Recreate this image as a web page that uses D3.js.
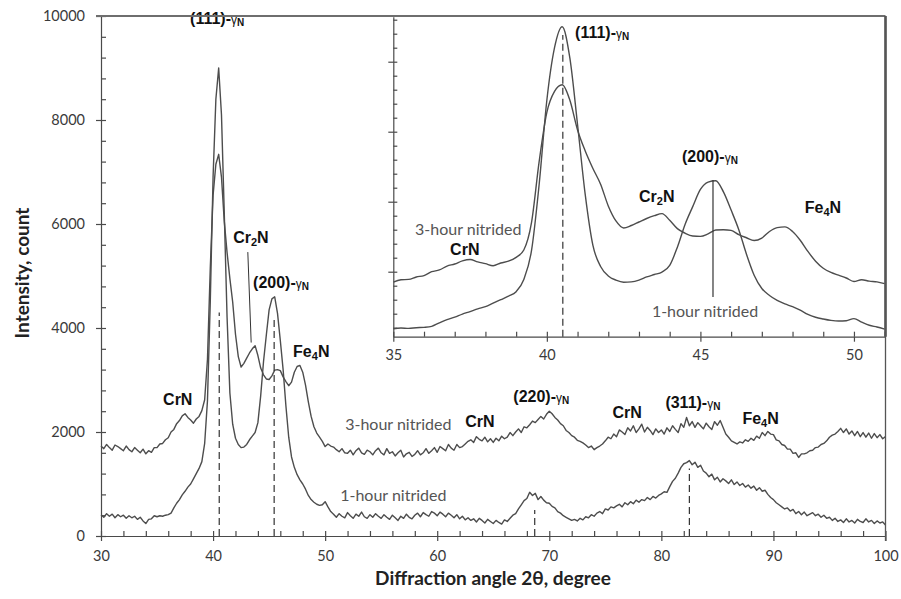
<!DOCTYPE html>
<html><head><meta charset="utf-8">
<script src="https://cdn.jsdelivr.net/npm/d3@7"></script>
<style>
body{margin:0;background:#fff}
svg{display:block;background:#fff}
.tick text{font-family:Lato,"Open Sans",sans-serif;font-size:14.5px;fill:#3a3a3a}
.axis path,.axis line{stroke:#4a4a4a;stroke-width:1.2}
.peak{font-family:"Liberation Sans",Arial,sans-serif;font-weight:bold;font-size:16px;fill:#111}
.note{font-family:Lato,"Open Sans",sans-serif;font-size:16px;fill:#555}
.title{font-family:Lato,"Open Sans",sans-serif;font-weight:bold;font-size:19px;fill:#222}
.trace{fill:none;stroke:#4d4d4d;stroke-width:1.4;stroke-linejoin:round}
</style></head>
<body><svg id="chart" width="901" height="599"></svg>
<script>
// XRD scan: 2θ from 30° to 100° in 0.25° steps
const angleStart = 30, angleStep = 0.25;

// 3-hour nitrided sample, counts
const threeHour = [
 1730,1680,1760,1700,1650,1750,1720,1680,1640,1730,1660,1620,1700,1650,1600,1670,1580,1640,1610,1700,
 1700,1770,1780,1850,1890,2000,2050,2160,2220,2310,2350,2280,2230,2170,2250,2300,2410,2620,3400,5150,
 6550,7150,7340,6900,6050,5450,4950,4500,3880,3450,3250,3320,3420,3520,3600,3660,3470,3230,3100,3020,
 3010,3080,3190,3200,3180,3060,2970,2890,2960,3150,3260,3280,3150,2900,2580,2300,2100,1980,1900,1820,
 1720,1770,1730,1710,1660,1620,1680,1600,1590,1650,1560,1640,1690,1600,1570,1650,1620,1560,1640,1690,
 1600,1560,1680,1590,1620,1540,1600,1650,1520,1580,1610,1530,1570,1640,1560,1600,1680,1590,1640,1700,
 1610,1720,1680,1640,1760,1690,1650,1760,1700,1720,1770,1820,1850,1800,1910,1860,1830,1900,1810,1870,
 1800,1880,1830,1920,1870,1900,1990,1930,2000,2060,1990,2100,2080,2140,2210,2180,2240,2300,2250,2340,
 2400,2350,2280,2230,2160,2120,2030,1990,1930,1900,1840,1820,1790,1750,1700,1730,1660,1700,1730,1770,
 1830,1900,1870,1960,1910,2040,2000,1950,2080,2020,2120,1990,2060,2150,2000,2090,2030,1950,2060,1990,
 2040,1960,2080,2010,2120,2050,1990,2160,2090,2280,2120,2200,2090,2180,2120,2060,2170,2100,2050,2200,
 2130,2220,2090,1960,1900,1830,1800,1770,1810,1790,1850,1820,1880,1840,1920,1880,1990,1930,2010,1960,
 1950,1850,1830,1760,1740,1670,1670,1590,1600,1510,1580,1580,1600,1640,1650,1700,1710,1760,1780,1830,
 1900,1940,1960,2010,2070,1990,2060,1960,2020,1930,2010,1910,1990,1900,1980,1880,1970,1890,1950,1870,
 1910
];

// 1-hour nitrided sample, counts
const oneHour = [
 410,360,430,380,420,350,410,370,400,340,390,350,380,320,360,290,240,320,330,390,
 370,390,380,400,410,440,540,630,700,790,860,940,1000,1100,1200,1300,1430,1780,2600,4500,
 6900,8400,9000,8100,6200,4200,2750,2150,1880,1760,1700,1710,1760,1850,1920,1990,2180,2700,3350,3860,
 4350,4560,4600,4280,3760,3200,2500,1900,1520,1320,1180,1080,1000,900,780,700,650,610,590,600,
 660,560,470,420,360,430,380,350,450,390,340,420,380,460,370,340,410,360,430,380,
 340,410,360,320,400,350,300,380,340,420,360,330,400,440,370,450,410,380,470,440,
 390,460,420,370,440,400,350,410,330,380,310,350,300,330,270,340,300,250,320,280,
 240,300,260,230,310,280,340,400,430,520,600,680,720,840,780,820,700,760,690,640,
 630,570,540,470,440,390,360,330,300,320,290,340,310,370,350,410,380,440,470,430,
 520,500,560,540,580,610,560,640,600,660,620,690,650,700,680,740,700,760,730,780,
 810,850,840,950,1050,1110,1210,1320,1390,1410,1450,1370,1420,1320,1360,1250,1210,1140,1190,1080,
 1130,1040,1100,1060,1010,1080,990,1040,970,1010,940,980,920,960,880,930,860,880,800,740,
 700,640,600,560,520,540,480,510,430,470,410,460,390,420,450,390,420,360,400,340,
 360,300,340,280,310,260,330,270,300,250,320,280,260,330,270,300,240,290,250,270,
 210
];

const xTicks = [30,40,50,60,70,80,90,100];
const yTicks = [0,2000,4000,6000,8000,10000];
const insetXTicks = [35,40,45,50];

// peak annotations: [2θ, counts] anchor of each label
const mainLabels = [
  {t:"(111)-", gamma:true, d:37.95, v:9846},
  {t:"Cr", sub:"2", tail:"N", d:41.79, v:5635},
  {t:"(200)-", gamma:true, d:43.57, v:4769},
  {t:"Fe", sub:"4", tail:"N", d:47.14, v:3442},
  {t:"CrN", d:35.54, v:2519},
  {t:"3-hour nitrided", note:true, d:51.79, v:2038},
  {t:"CrN", d:62.5, v:2096},
  {t:"(220)-", gamma:true, d:66.79, v:2577},
  {t:"CrN", d:75.63, v:2269},
  {t:"(311)-", gamma:true, d:80.36, v:2462},
  {t:"Fe", sub:"4", tail:"N", d:87.23, v:2154},
  {t:"1-hour nitrided", note:true, d:51.34, v:673}
];
const insetLabels = [
  {t:"(111)-", gamma:true, d:40.92, v:8677},
  {t:"(200)-", gamma:true, d:44.4, v:5134},
  {t:"Cr", sub:"2", tail:"N", d:43.0, v:3991},
  {t:"Fe", sub:"4", tail:"N", d:48.4, v:3677},
  {t:"3-hour nitrided", note:true, d:35.71, v:3048},
  {t:"CrN", d:36.85, v:2477},
  {t:"1-hour nitrided", note:true, d:43.42, v:706}
];

// peak position markers: [2θ, from counts, to counts]
const mainMarkers = [
  {d:40.55, v0:0, v1:4300, dash:true},
  {d:45.45, v0:0, v1:4200, dash:true},
  {d:68.7, v0:0, v1:500, dash:true},
  {d:82.5, v0:0, v1:1300, dash:true}
];
const insetMarkers = [
  {d:40.52, v0:143, v1:8760, dash:true},
  {d:45.41, v0:1280, v1:4620, dash:false}
];
// leader from the Cr2N label to its shoulder
const cr2nLeader = {d0:43.1, v0:5460, d1:43.4, v1:3720};

const scan = threeHour.map((v,i)=>({a: angleStart + i*angleStep, three: v, one: oneHour[i]}));

const svg = d3.select("#chart");
const L = 101, R = 885.5, T = 16, B = 536;
const x = d3.scaleLinear().domain([30,100]).range([L,R]);
const y = d3.scaleLinear().domain([0,10000]).range([B,T]);

// ---- main axes
const yMinor = d3.range(0,10001,400);
const xMinor = d3.range(30,101,2);
svg.append("g").attr("class","axis").attr("transform",`translate(${L},0)`)
  .call(d3.axisLeft(y).tickValues(yTicks).tickFormat(d3.format("d")).tickSize(5).tickSizeOuter(0).tickPadding(11));
svg.append("g").attr("class","axis").attr("transform",`translate(${L},0)`)
  .call(d3.axisRight(y).tickValues(yMinor).tickSize(5).tickSizeOuter(0).tickFormat(""))
  .select(".domain").remove();
svg.append("g").attr("class","axis").attr("transform",`translate(0,${B})`)
  .call(d3.axisBottom(x).tickValues(xTicks).tickSize(5).tickSizeOuter(0).tickPadding(10));
svg.append("g").attr("class","axis").attr("transform",`translate(0,${B})`)
  .call(d3.axisTop(x).tickValues(xMinor).tickSize(5).tickSizeOuter(0).tickFormat(""))
  .select(".domain").remove();

// ---- main traces
const lineThree = d3.line().x(d=>x(d.a)).y(d=>y(d.three));
const lineOne = d3.line().x(d=>x(d.a)).y(d=>y(d.one));
svg.append("path").datum(scan).attr("class","trace").attr("d",lineThree);
svg.append("path").datum(scan).attr("class","trace").attr("d",lineOne);

function drawMarkers(g, xs, ys, list){
  list.forEach(m=>{
    g.append("line").attr("x1",xs(m.d)).attr("x2",xs(m.d))
      .attr("y1",ys(m.v0)).attr("y2",ys(m.v1))
      .attr("stroke","#333").attr("stroke-width",1.2)
      .attr("stroke-dasharray", m.dash ? "7,4" : null);
  });
}
function drawLabels(g, xs, ys, list){
  list.forEach(l=>{
    const t = g.append("text").attr("x",xs(l.d)).attr("y",ys(l.v));
    if (l.note){ t.attr("class","note").text(l.t); return; }
    t.attr("class","peak");
    t.append("tspan").text(l.t);
    if (l.gamma){
      t.append("tspan").attr("font-size",12).attr("font-weight","normal").text("γ");
      t.append("tspan").attr("font-size",10).attr("dy",2).text("N");
    }
    if (l.sub){
      t.append("tspan").attr("font-size",11).attr("dy",3).text(l.sub);
      t.append("tspan").attr("dy",-3).text(l.tail);
    }
  });
}
drawMarkers(svg, x, y, mainMarkers);
svg.append("line").attr("x1",x(cr2nLeader.d0)).attr("y1",y(cr2nLeader.v0))
  .attr("x2",x(cr2nLeader.d1)).attr("y2",y(cr2nLeader.v1))
  .attr("stroke","#333").attr("stroke-width",1);
drawLabels(svg, x, y, mainLabels);

// ---- inset: close-up of 35°–51°
const iL = 393.3, iR = 885.5, iT = 16.7, iB = 336.7;
const xi = d3.scaleLinear().domain([35,51]).range([iL, iL + 16*30.71]);
const yi = d3.scaleLinear().domain([143, 143 + (iB-iT)/0.035]).range([iB,iT]);
const inset = svg.append("g");
inset.append("rect").attr("x",iL).attr("y",iT).attr("width",iR-iL).attr("height",iB-iT).attr("fill","#fff");
inset.append("defs").append("clipPath").attr("id","insetClip")
  .append("rect").attr("x",iL).attr("y",iT).attr("width",iR-iL).attr("height",iB-iT);

inset.append("g").attr("class","axis").attr("transform",`translate(0,${iB})`)
  .call(d3.axisBottom(xi).tickValues(insetXTicks).tickSize(5).tickSizeOuter(0).tickPadding(8));
inset.append("g").attr("class","axis").attr("transform",`translate(0,${iB})`)
  .call(d3.axisTop(xi).tickValues(d3.range(35,52,1)).tickSize(5).tickSizeOuter(0).tickFormat(""))
  .select(".domain").remove();
const yiMinor = d3.range(400, 9300, 400);
const yiMajor = d3.range(2000, 9300, 2000);
inset.append("g").attr("class","axis").attr("transform",`translate(${iL},0)`)
  .call(d3.axisLeft(yi).tickValues(yiMajor).tickSize(5).tickSizeOuter(0).tickFormat(""));
inset.append("g").attr("class","axis").attr("transform",`translate(${iL},0)`)
  .call(d3.axisRight(yi).tickValues(yiMinor).tickSize(4).tickSizeOuter(0).tickFormat(""))
  .select(".domain").remove();

const insetScan = scan.filter(d=>d.a>=35 && d.a<=51);
const curveI = d3.curveMonotoneX;
const clipG = inset.append("g").attr("clip-path","url(#insetClip)");
clipG.append("path").datum(insetScan).attr("class","trace")
  .attr("d", d3.line().curve(curveI).x(d=>xi(d.a)).y(d=>yi(d.three)));
clipG.append("path").datum(insetScan).attr("class","trace")
  .attr("d", d3.line().curve(curveI).x(d=>xi(d.a)).y(d=>yi(d.one)));
drawMarkers(inset, xi, yi, insetMarkers);
drawLabels(inset, xi, yi, insetLabels);

// ---- frame lines
svg.append("line").attr("x1",L-5).attr("x2",R).attr("y1",T).attr("y2",T)
  .attr("stroke","#6e6e6e").attr("stroke-width",1.8);
svg.append("line").attr("x1",R).attr("x2",R).attr("y1",T).attr("y2",B+5)
  .attr("stroke","#555").attr("stroke-width",1.3);
svg.append("line").attr("x1",R).attr("x2",R).attr("y1",T).attr("y2",iB)
  .attr("stroke","#555").attr("stroke-width",2.6);

// ---- axis titles
svg.append("text").attr("class","title").attr("text-anchor","middle")
  .attr("transform","translate(29,273) rotate(-90)").text("Intensity, count");
svg.append("text").attr("class","title").attr("text-anchor","middle")
  .attr("x",493).attr("y",585).text("Diffraction angle 2θ, degree");
</script>
</body></html>
